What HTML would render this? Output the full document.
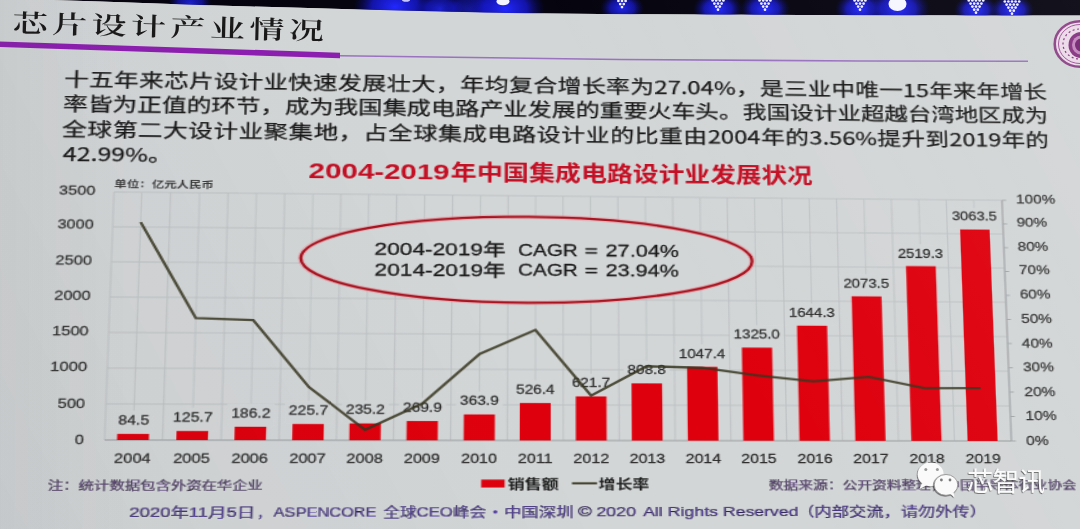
<!DOCTYPE html>
<html><head><meta charset="utf-8">
<style>
html,body{margin:0;padding:0;}
body{width:1080px;height:529px;overflow:hidden;position:relative;background:#d3d6d7;
font-family:"Liberation Sans","Noto Sans CJK SC",sans-serif;}
#bgv{position:absolute;left:0;top:0;width:1080px;height:529px;pointer-events:none;
background:linear-gradient(90deg, rgba(60,60,60,0.04) 0%, rgba(60,60,60,0) 12%),linear-gradient(62deg, rgba(40,40,50,0.045) 0%, rgba(40,40,50,0) 45%, rgba(255,255,255,0) 60%, rgba(255,255,255,0.06) 100%);}
#pg{position:absolute;left:0;top:0;width:1080px;height:529px;overflow:hidden;filter:blur(0.3px);}
#flat{position:absolute;left:0;top:0;width:860px;height:529px;transform-origin:0 0;transform:matrix3d(1.28775491,0.0201787391,0,4.26444297e-05,-0.0467399889,0.96182325,0,-8.47955464e-05,0,0,1,0,13.4662432,0.2624763,0,1);}
.pl{position:absolute;left:0;white-space:nowrap;width:786.5px;text-align:justify;text-align-last:justify;font-family:"Noto Sans CJK SC",sans-serif;font-size:19.2px;line-height:1;color:#1a1a1a;-webkit-text-stroke:0.25px #1a1a1a;}
svg text{font-family:"Liberation Sans", "Noto Sans CJK SC", sans-serif;}
.dl{font-size:12px;fill:#2e2e2e;text-anchor:middle;stroke:#2e2e2e;stroke-width:0.25px;}
.xl{font-size:12.5px;fill:#2e2e2e;text-anchor:middle;stroke:#2e2e2e;stroke-width:0.25px;}
.yl{font-size:12.5px;fill:#333;stroke:#333;stroke-width:0.25px;}
.rl{font-size:12.5px;fill:#333;text-anchor:start;stroke:#333;stroke-width:0.25px;}
.tk{stroke:#1c1c1c;stroke-width:0.3px;}
.tk2{stroke:currentColor;stroke-width:0.2px;}
.lt{letter-spacing:0px;}
.lt2{letter-spacing:0px;}
</style></head><body>
<div id="pg">
<svg width="1080" height="529" style="position:absolute;left:0;top:0" >
<defs><radialGradient id="gl"><stop offset="0" stop-color="#2228ff"/><stop offset="0.55" stop-color="#1618d0" stop-opacity="0.8"/><stop offset="1" stop-color="#0a0a70" stop-opacity="0"/></radialGradient>
<clipPath id="bc"><polygon points="0,0 0,-1 50,0 100,1.5 150,3.3 200,5 250,6.5 300,7.8 350,9.2 400,10.4 450,11.7 500,12.8 550,13.5 600,14 700,14.5 800,15 900,15.2 1000,15.5 1080,15.5 1080,0"/></clipPath></defs>
<g clip-path="url(#bc)"><polygon points="0,0 0,-1 50,0 100,1.5 150,3.3 200,5 250,6.5 300,7.8 350,9.2 400,10.4 450,11.7 500,12.8 550,13.5 600,14 700,14.5 800,15 900,15.2 1000,15.5 1080,15.5 1080,0" fill="#05040f"/>
<ellipse cx="190" cy="3" rx="22" ry="15.4" fill="url(#gl)" opacity="0.8"/><ellipse cx="395" cy="7" rx="42" ry="29.4" fill="url(#gl)" opacity="1"/><ellipse cx="440" cy="9" rx="25" ry="17.5" fill="url(#gl)" opacity="0.8"/><ellipse cx="470" cy="10" rx="30" ry="21.0" fill="url(#gl)" opacity="0.6"/><ellipse cx="505" cy="9" rx="40" ry="28.0" fill="url(#gl)" opacity="1"/><ellipse cx="622" cy="8" rx="22" ry="15.4" fill="url(#gl)" opacity="0.9"/><ellipse cx="718" cy="9" rx="25" ry="17.5" fill="url(#gl)" opacity="1"/><ellipse cx="765" cy="9" rx="25" ry="17.5" fill="url(#gl)" opacity="1"/><ellipse cx="860" cy="9" rx="25" ry="17.5" fill="url(#gl)" opacity="1"/><ellipse cx="898" cy="9" rx="32" ry="22.4" fill="url(#gl)" opacity="1"/><ellipse cx="976" cy="10" rx="22" ry="15.4" fill="url(#gl)" opacity="1"/><ellipse cx="1012" cy="10" rx="22" ry="15.4" fill="url(#gl)" opacity="1"/>
<ellipse cx="503" cy="1.5" rx="6.5" ry="3.8" fill="#f4f4ff"/><ellipse cx="406" cy="0" rx="4" ry="1.8" fill="#c8c8ff"/><ellipse cx="897.5" cy="4" rx="9" ry="7" fill="#f6f6ff"/><circle cx="618.4" cy="1.0" r="1.35" fill="#f0f0ff"/><circle cx="622.0" cy="1.0" r="1.35" fill="#f0f0ff"/><circle cx="625.6" cy="1.0" r="1.35" fill="#f0f0ff"/><circle cx="620.2" cy="4.1" r="1.35" fill="#f0f0ff"/><circle cx="623.8" cy="4.1" r="1.35" fill="#f0f0ff"/><circle cx="622.0" cy="7.1" r="1.35" fill="#f0f0ff"/><circle cx="712.6" cy="0.5" r="1.35" fill="#f0f0ff"/><circle cx="716.2" cy="0.5" r="1.35" fill="#f0f0ff"/><circle cx="719.8" cy="0.5" r="1.35" fill="#f0f0ff"/><circle cx="723.4" cy="0.5" r="1.35" fill="#f0f0ff"/><circle cx="714.4" cy="3.6" r="1.35" fill="#f0f0ff"/><circle cx="718.0" cy="3.6" r="1.35" fill="#f0f0ff"/><circle cx="721.6" cy="3.6" r="1.35" fill="#f0f0ff"/><circle cx="716.2" cy="6.6" r="1.35" fill="#f0f0ff"/><circle cx="719.8" cy="6.6" r="1.35" fill="#f0f0ff"/><circle cx="718.0" cy="9.7" r="1.35" fill="#f0f0ff"/><circle cx="759.6" cy="0.5" r="1.35" fill="#f0f0ff"/><circle cx="763.2" cy="0.5" r="1.35" fill="#f0f0ff"/><circle cx="766.8" cy="0.5" r="1.35" fill="#f0f0ff"/><circle cx="770.4" cy="0.5" r="1.35" fill="#f0f0ff"/><circle cx="761.4" cy="3.6" r="1.35" fill="#f0f0ff"/><circle cx="765.0" cy="3.6" r="1.35" fill="#f0f0ff"/><circle cx="768.6" cy="3.6" r="1.35" fill="#f0f0ff"/><circle cx="763.2" cy="6.6" r="1.35" fill="#f0f0ff"/><circle cx="766.8" cy="6.6" r="1.35" fill="#f0f0ff"/><circle cx="765.0" cy="9.7" r="1.35" fill="#f0f0ff"/><circle cx="854.6" cy="0.5" r="1.35" fill="#f0f0ff"/><circle cx="858.2" cy="0.5" r="1.35" fill="#f0f0ff"/><circle cx="861.8" cy="0.5" r="1.35" fill="#f0f0ff"/><circle cx="865.4" cy="0.5" r="1.35" fill="#f0f0ff"/><circle cx="856.4" cy="3.6" r="1.35" fill="#f0f0ff"/><circle cx="860.0" cy="3.6" r="1.35" fill="#f0f0ff"/><circle cx="863.6" cy="3.6" r="1.35" fill="#f0f0ff"/><circle cx="858.2" cy="6.6" r="1.35" fill="#f0f0ff"/><circle cx="861.8" cy="6.6" r="1.35" fill="#f0f0ff"/><circle cx="860.0" cy="9.7" r="1.35" fill="#f0f0ff"/><circle cx="968.8" cy="0.5" r="1.35" fill="#f0f0ff"/><circle cx="972.4" cy="0.5" r="1.35" fill="#f0f0ff"/><circle cx="976.0" cy="0.5" r="1.35" fill="#f0f0ff"/><circle cx="979.6" cy="0.5" r="1.35" fill="#f0f0ff"/><circle cx="983.2" cy="0.5" r="1.35" fill="#f0f0ff"/><circle cx="970.6" cy="3.6" r="1.35" fill="#f0f0ff"/><circle cx="974.2" cy="3.6" r="1.35" fill="#f0f0ff"/><circle cx="977.8" cy="3.6" r="1.35" fill="#f0f0ff"/><circle cx="981.4" cy="3.6" r="1.35" fill="#f0f0ff"/><circle cx="972.4" cy="6.6" r="1.35" fill="#f0f0ff"/><circle cx="976.0" cy="6.6" r="1.35" fill="#f0f0ff"/><circle cx="979.6" cy="6.6" r="1.35" fill="#f0f0ff"/><circle cx="974.2" cy="9.7" r="1.35" fill="#f0f0ff"/><circle cx="977.8" cy="9.7" r="1.35" fill="#f0f0ff"/><circle cx="976.0" cy="12.7" r="1.35" fill="#f0f0ff"/><circle cx="1004.8" cy="1.5" r="1.35" fill="#f0f0ff"/><circle cx="1008.4" cy="1.5" r="1.35" fill="#f0f0ff"/><circle cx="1012.0" cy="1.5" r="1.35" fill="#f0f0ff"/><circle cx="1015.6" cy="1.5" r="1.35" fill="#f0f0ff"/><circle cx="1019.2" cy="1.5" r="1.35" fill="#f0f0ff"/><circle cx="1006.6" cy="4.6" r="1.35" fill="#f0f0ff"/><circle cx="1010.2" cy="4.6" r="1.35" fill="#f0f0ff"/><circle cx="1013.8" cy="4.6" r="1.35" fill="#f0f0ff"/><circle cx="1017.4" cy="4.6" r="1.35" fill="#f0f0ff"/><circle cx="1008.4" cy="7.6" r="1.35" fill="#f0f0ff"/><circle cx="1012.0" cy="7.6" r="1.35" fill="#f0f0ff"/><circle cx="1015.6" cy="7.6" r="1.35" fill="#f0f0ff"/><circle cx="1010.2" cy="10.7" r="1.35" fill="#f0f0ff"/><circle cx="1013.8" cy="10.7" r="1.35" fill="#f0f0ff"/><circle cx="1012.0" cy="13.7" r="1.35" fill="#f0f0ff"/>
</g>
<polygon points="0,41.5 340,52.7 340,58.3 0,47" fill="#8d1fb0"/>
<path d="M340,55.7 C 420,57.2 520,58.3 620,59.5 S 900,61.2 1028,61.3" fill="none" stroke="#9a72c0" stroke-width="1.6"/>
</svg>
<div style="position:absolute;left:13px;top:9px;transform-origin:0 0;transform:rotate(1.45deg) scale(1.4,1);font-family:'Noto Serif CJK SC','Noto Sans CJK SC',serif;font-weight:600;font-size:25px;line-height:1;letter-spacing:3.2px;color:#1a1a1a;white-space:nowrap">芯片设计产业情况</div>
<div id="flat">
<div class="pl" id="l1" style="top:71px;left:42px">十五年来芯片设计业快速发展壮大，年均复合增长率为<span class="lt">27.04%</span>，是三业中唯一<span class="lt">15</span>年来年增长</div>
<div class="pl" id="l2" style="top:95.5px;left:42px">率皆为正值的环节，成为我国集成电路产业发展的重要火车头。我国设计业超越台湾地区成为</div>
<div class="pl" id="l3" style="top:122px;left:42px">全球第二大设计业聚集地，占全球集成电路设计业的比重由<span class="lt">2004</span>年的<span class="lt">3.56%</span>提升到<span class="lt">2019</span>年的</div>
<div class="pl" id="l4" style="top:147px;left:43.6px;text-align-last:left"><span class="lt2">42.99%</span>。</div>
<svg width="860" height="529" style="position:absolute;left:0;top:0;overflow:visible">
<line x1="84" y1="195" x2="788" y2="195" stroke="#bdc1c3" stroke-width="1"/>
<line x1="84" y1="230" x2="788" y2="230" stroke="#bdc1c3" stroke-width="1"/>
<line x1="84" y1="265" x2="788" y2="265" stroke="#bdc1c3" stroke-width="1"/>
<line x1="84" y1="300" x2="788" y2="300" stroke="#bdc1c3" stroke-width="1"/>
<line x1="84" y1="335" x2="788" y2="335" stroke="#bdc1c3" stroke-width="1"/>
<line x1="84" y1="370" x2="788" y2="370" stroke="#bdc1c3" stroke-width="1"/>
<line x1="84" y1="405" x2="788" y2="405" stroke="#bdc1c3" stroke-width="1"/>
<line x1="84" y1="440" x2="788" y2="440" stroke="#bdc1c3" stroke-width="1"/>
<line x1="84.00" y1="195" x2="84.00" y2="440" stroke="#bdc1c3" stroke-width="0.9"/>
<line x1="127.74" y1="195" x2="127.74" y2="440" stroke="#bdc1c3" stroke-width="0.9"/>
<line x1="172.11" y1="195" x2="172.11" y2="440" stroke="#bdc1c3" stroke-width="0.9"/>
<line x1="216.12" y1="195" x2="216.12" y2="440" stroke="#bdc1c3" stroke-width="0.9"/>
<line x1="259.92" y1="195" x2="259.92" y2="440" stroke="#bdc1c3" stroke-width="0.9"/>
<line x1="303.66" y1="195" x2="303.66" y2="440" stroke="#bdc1c3" stroke-width="0.9"/>
<line x1="347.59" y1="195" x2="347.59" y2="440" stroke="#bdc1c3" stroke-width="0.9"/>
<line x1="391.30" y1="195" x2="391.30" y2="440" stroke="#bdc1c3" stroke-width="0.9"/>
<line x1="434.73" y1="195" x2="434.73" y2="440" stroke="#bdc1c3" stroke-width="0.9"/>
<line x1="478.29" y1="195" x2="478.29" y2="440" stroke="#bdc1c3" stroke-width="0.9"/>
<line x1="521.99" y1="195" x2="521.99" y2="440" stroke="#bdc1c3" stroke-width="0.9"/>
<line x1="565.65" y1="195" x2="565.65" y2="440" stroke="#bdc1c3" stroke-width="0.9"/>
<line x1="609.51" y1="195" x2="609.51" y2="440" stroke="#bdc1c3" stroke-width="0.9"/>
<line x1="653.67" y1="195" x2="653.67" y2="440" stroke="#bdc1c3" stroke-width="0.9"/>
<line x1="697.99" y1="195" x2="697.99" y2="440" stroke="#bdc1c3" stroke-width="0.9"/>
<line x1="742.59" y1="195" x2="742.59" y2="440" stroke="#bdc1c3" stroke-width="0.9"/>
<line x1="788.00" y1="195" x2="788.00" y2="440" stroke="#bdc1c3" stroke-width="0.9"/>
<line x1="105.40" y1="195" x2="105.40" y2="440" stroke="#bdc1c3" stroke-width="0.8"/>
<line x1="150.08" y1="195" x2="150.08" y2="440" stroke="#bdc1c3" stroke-width="0.8"/>
<line x1="194.14" y1="195" x2="194.14" y2="440" stroke="#bdc1c3" stroke-width="0.8"/>
<line x1="238.11" y1="195" x2="238.11" y2="440" stroke="#bdc1c3" stroke-width="0.8"/>
<line x1="281.74" y1="195" x2="281.74" y2="440" stroke="#bdc1c3" stroke-width="0.8"/>
<line x1="325.59" y1="195" x2="325.59" y2="440" stroke="#bdc1c3" stroke-width="0.8"/>
<line x1="369.60" y1="195" x2="369.60" y2="440" stroke="#bdc1c3" stroke-width="0.8"/>
<line x1="413.01" y1="195" x2="413.01" y2="440" stroke="#bdc1c3" stroke-width="0.8"/>
<line x1="456.46" y1="195" x2="456.46" y2="440" stroke="#bdc1c3" stroke-width="0.8"/>
<line x1="500.12" y1="195" x2="500.12" y2="440" stroke="#bdc1c3" stroke-width="0.8"/>
<line x1="543.87" y1="195" x2="543.87" y2="440" stroke="#bdc1c3" stroke-width="0.8"/>
<line x1="587.43" y1="195" x2="587.43" y2="440" stroke="#bdc1c3" stroke-width="0.8"/>
<line x1="631.59" y1="195" x2="631.59" y2="440" stroke="#bdc1c3" stroke-width="0.8"/>
<line x1="675.76" y1="195" x2="675.76" y2="440" stroke="#bdc1c3" stroke-width="0.8"/>
<line x1="720.22" y1="195" x2="720.22" y2="440" stroke="#bdc1c3" stroke-width="0.8"/>
<line x1="764.97" y1="195" x2="764.97" y2="440" stroke="#bdc1c3" stroke-width="0.8"/>
<line x1="84" y1="440" x2="788" y2="440" stroke="#a3a6a8" stroke-width="1.1"/>
<line x1="788" y1="195" x2="788" y2="440" stroke="#a3a6a8" stroke-width="1.1"/>
<line x1="788" y1="440.0" x2="791.5" y2="440.0" stroke="#a3a6a8" stroke-width="1"/>
<line x1="788" y1="415.5" x2="791.5" y2="415.5" stroke="#a3a6a8" stroke-width="1"/>
<line x1="788" y1="391.0" x2="791.5" y2="391.0" stroke="#a3a6a8" stroke-width="1"/>
<line x1="788" y1="366.5" x2="791.5" y2="366.5" stroke="#a3a6a8" stroke-width="1"/>
<line x1="788" y1="342.0" x2="791.5" y2="342.0" stroke="#a3a6a8" stroke-width="1"/>
<line x1="788" y1="317.5" x2="791.5" y2="317.5" stroke="#a3a6a8" stroke-width="1"/>
<line x1="788" y1="293.0" x2="791.5" y2="293.0" stroke="#a3a6a8" stroke-width="1"/>
<line x1="788" y1="268.5" x2="791.5" y2="268.5" stroke="#a3a6a8" stroke-width="1"/>
<line x1="788" y1="244.0" x2="791.5" y2="244.0" stroke="#a3a6a8" stroke-width="1"/>
<line x1="788" y1="219.5" x2="791.5" y2="219.5" stroke="#a3a6a8" stroke-width="1"/>
<line x1="788" y1="195.0" x2="791.5" y2="195.0" stroke="#a3a6a8" stroke-width="1"/>
<rect x="90.70" y="411.58" width="29.40" height="22.50" fill="#d3d6d7"/>
<rect x="132.08" y="408.70" width="36.00" height="22.50" fill="#d3d6d7"/>
<rect x="176.14" y="404.47" width="36.00" height="22.50" fill="#d3d6d7"/>
<rect x="220.11" y="401.70" width="36.00" height="22.50" fill="#d3d6d7"/>
<rect x="263.74" y="401.04" width="36.00" height="22.50" fill="#d3d6d7"/>
<rect x="307.59" y="398.61" width="36.00" height="22.50" fill="#d3d6d7"/>
<rect x="351.60" y="392.03" width="36.00" height="22.50" fill="#d3d6d7"/>
<rect x="395.01" y="380.65" width="36.00" height="22.50" fill="#d3d6d7"/>
<rect x="438.46" y="373.98" width="36.00" height="22.50" fill="#d3d6d7"/>
<rect x="482.12" y="360.88" width="36.00" height="22.50" fill="#d3d6d7"/>
<rect x="522.57" y="344.18" width="42.60" height="22.50" fill="#d3d6d7"/>
<rect x="566.13" y="324.75" width="42.60" height="22.50" fill="#d3d6d7"/>
<rect x="610.29" y="302.40" width="42.60" height="22.50" fill="#d3d6d7"/>
<rect x="654.46" y="272.36" width="42.60" height="22.50" fill="#d3d6d7"/>
<rect x="698.92" y="241.15" width="42.60" height="22.50" fill="#d3d6d7"/>
<rect x="743.67" y="203.06" width="42.60" height="22.50" fill="#d3d6d7"/>
<ellipse cx="407.2" cy="259.9" rx="177.5" ry="43.5" fill="#d3d6d7" stroke="rgba(235,140,150,0.45)" stroke-width="4.6"/>
<ellipse cx="407.2" cy="259.9" rx="177.5" ry="43.5" fill="none" stroke="#a9131f" stroke-width="2.3"/>
<rect x="93.40" y="434.08" width="24" height="5.92" fill="#df000e"/>
<rect x="138.08" y="431.20" width="24" height="8.80" fill="#df000e"/>
<rect x="182.14" y="426.97" width="24" height="13.03" fill="#df000e"/>
<rect x="226.11" y="424.20" width="24" height="15.80" fill="#df000e"/>
<rect x="269.74" y="423.54" width="24" height="16.46" fill="#df000e"/>
<rect x="313.59" y="421.11" width="24" height="18.89" fill="#df000e"/>
<rect x="357.60" y="414.53" width="24" height="25.47" fill="#df000e"/>
<rect x="401.01" y="403.15" width="24" height="36.85" fill="#df000e"/>
<rect x="444.46" y="396.48" width="24" height="43.52" fill="#df000e"/>
<rect x="488.12" y="383.38" width="24" height="56.62" fill="#df000e"/>
<rect x="531.87" y="366.68" width="24" height="73.32" fill="#df000e"/>
<rect x="575.43" y="347.25" width="24" height="92.75" fill="#df000e"/>
<rect x="619.59" y="324.90" width="24" height="115.10" fill="#df000e"/>
<rect x="663.76" y="294.86" width="24" height="145.14" fill="#df000e"/>
<rect x="708.22" y="263.65" width="24" height="176.35" fill="#df000e"/>
<rect x="752.97" y="225.56" width="24" height="214.44" fill="#df000e"/>
<text x="105.40" y="424.98" class="dl">84.5</text>
<text x="150.08" y="422.10" class="dl">125.7</text>
<text x="194.14" y="417.87" class="dl">186.2</text>
<text x="238.11" y="415.10" class="dl">225.7</text>
<text x="281.74" y="414.44" class="dl">235.2</text>
<text x="325.59" y="412.01" class="dl">269.9</text>
<text x="369.60" y="405.43" class="dl">363.9</text>
<text x="413.01" y="394.05" class="dl">526.4</text>
<text x="456.46" y="387.38" class="dl">621.7</text>
<text x="500.12" y="374.28" class="dl">808.8</text>
<text x="543.87" y="357.58" class="dl">1047.4</text>
<text x="587.43" y="338.15" class="dl">1325.0</text>
<text x="631.59" y="315.80" class="dl">1644.3</text>
<text x="675.76" y="285.75" class="dl">2073.5</text>
<text x="720.22" y="254.55" class="dl">2519.3</text>
<text x="764.97" y="216.46" class="dl">3063.5</text>
<polyline points="105.40,225.13 150.08,320.44 194.14,322.15 238.11,388.06 281.74,429.71 325.59,403.74 369.60,354.74 413.01,330.49 456.46,395.65 500.12,366.25 543.87,367.73 587.43,375.07 631.59,380.95 675.76,376.06 720.22,387.32 764.97,387.08" fill="none" stroke="#37361f" stroke-opacity="0.86" stroke-width="2.3" stroke-linejoin="miter"/>
<text x="105.40" y="461.90" class="xl">2004</text>
<text x="150.08" y="461.90" class="xl">2005</text>
<text x="194.14" y="461.90" class="xl">2006</text>
<text x="238.11" y="461.90" class="xl">2007</text>
<text x="281.74" y="461.90" class="xl">2008</text>
<text x="325.59" y="461.90" class="xl">2009</text>
<text x="369.60" y="461.90" class="xl">2010</text>
<text x="413.01" y="461.90" class="xl">2011</text>
<text x="456.46" y="461.90" class="xl">2012</text>
<text x="500.12" y="461.90" class="xl">2013</text>
<text x="543.87" y="461.90" class="xl">2014</text>
<text x="587.43" y="461.90" class="xl">2015</text>
<text x="631.59" y="461.90" class="xl">2016</text>
<text x="675.76" y="461.90" class="xl">2017</text>
<text x="720.22" y="461.90" class="xl">2018</text>
<text x="764.97" y="461.90" class="xl">2019</text>
<text x="61.53" y="443.76" class="yl">0</text>
<text x="47.48" y="408.76" class="yl">500</text>
<text x="40.80" y="373.35" class="yl">1000</text>
<text x="41.01" y="338.01" class="yl">1500</text>
<text x="41.46" y="303.15" class="yl">2000</text>
<text x="41.30" y="267.77" class="yl">2500</text>
<text x="41.68" y="232.18" class="yl">3000</text>
<text x="41.86" y="197.68" class="yl">3500</text>
<text x="799.77" y="443.70" class="rl">0%</text>
<text x="800.06" y="419.50" class="rl">10%</text>
<text x="799.95" y="394.81" class="rl">20%</text>
<text x="799.65" y="370.31" class="rl">30%</text>
<text x="799.47" y="346.12" class="rl">40%</text>
<text x="799.71" y="320.81" class="rl">50%</text>
<text x="799.40" y="296.21" class="rl">60%</text>
<text x="799.63" y="271.30" class="rl">70%</text>
<text x="799.22" y="247.01" class="rl">80%</text>
<text x="799.15" y="222.41" class="rl">90%</text>
<text x="799.56" y="197.71" class="rl">100%</text>
<rect x="371.38" y="478.25" width="18.01" height="7.69" fill="#df000e"/>
<line x1="441.43" y1="481.88" x2="460.80" y2="481.88" stroke="#3d3c27" stroke-width="2"/>
<text x="391.67" y="486.82" textLength="39.42" lengthAdjust="spacingAndGlyphs" font-size="13" fill="#1e1e1e" font-weight="bold" >销售额</text>
<text x="462.09" y="487.25" textLength="39.39" lengthAdjust="spacingAndGlyphs" font-size="13" fill="#1e1e1e" font-weight="bold" >增长率</text>
<text x="234.37" y="178.91" textLength="110.59" lengthAdjust="spacingAndGlyphs" font-size="21.4" fill="#c40f24" font-weight="bold" >2004-2019</text>
<text x="345.84" y="179.41" textLength="288.86" lengthAdjust="spacingAndGlyphs" font-size="21.4" fill="#c40f24" font-weight="bold" >年中国集成电路设计业发展状况</text>
<text x="84.13" y="189.54" textLength="76.76" lengthAdjust="spacingAndGlyphs" font-size="9.6" fill="#3c3c3c" font-weight="bold" >单位：亿元人民币</text>
<text x="286.87" y="256.00" textLength="102.63" lengthAdjust="spacingAndGlyphs" font-size="17.4" fill="#1c1c1c" font-weight="normal" class="tk">2004-2019年</text>
<text x="399.33" y="255.75" textLength="46.92" lengthAdjust="spacingAndGlyphs" font-size="17.4" fill="#1c1c1c" font-weight="normal" class="tk">CAGR</text>
<text x="451.74" y="255.96" textLength="10.48" lengthAdjust="spacingAndGlyphs" font-size="17.4" fill="#1c1c1c" font-weight="normal" class="tk">=</text>
<text x="468.31" y="255.91" textLength="58.19" lengthAdjust="spacingAndGlyphs" font-size="17.4" fill="#1c1c1c" font-weight="normal" class="tk">27.04%</text>
<text x="287.11" y="276.91" textLength="102.45" lengthAdjust="spacingAndGlyphs" font-size="17.4" fill="#1c1c1c" font-weight="normal" class="tk">2014-2019年</text>
<text x="399.38" y="276.36" textLength="46.84" lengthAdjust="spacingAndGlyphs" font-size="17.4" fill="#1c1c1c" font-weight="normal" class="tk">CAGR</text>
<text x="451.70" y="276.21" textLength="10.46" lengthAdjust="spacingAndGlyphs" font-size="17.4" fill="#1c1c1c" font-weight="normal" class="tk">=</text>
<text x="468.23" y="276.17" textLength="58.09" lengthAdjust="spacingAndGlyphs" font-size="17.4" fill="#1c1c1c" font-weight="normal" class="tk">23.94%</text>
<text x="42.69" y="487.64" textLength="161.83" lengthAdjust="spacingAndGlyphs" font-size="11.5" fill="#6a4f8c" font-weight="normal" class="tk2">注：统计数据包含外资在华企业</text>
<text x="594.70" y="488.03" textLength="243.94" lengthAdjust="spacingAndGlyphs" font-size="11.5" fill="#6a4f8c" font-weight="normal" class="tk2">数据来源：公开资料整理，中国半导体行业协会</text>
<text x="104.49" y="513.55" textLength="94.85" lengthAdjust="spacingAndGlyphs" font-size="13" fill="#5a45a6" font-weight="normal" class="tk2">2020年11月5日</text>
<text x="200.90" y="513.72" textLength="9.95" lengthAdjust="spacingAndGlyphs" font-size="13" fill="#5a45a6" font-weight="normal" class="tk2">，</text>
<text x="213.33" y="513.74" textLength="78.01" lengthAdjust="spacingAndGlyphs" font-size="13" fill="#5a45a6" font-weight="normal" class="tk2">ASPENCORE</text>
<text x="296.41" y="513.90" textLength="78.95" lengthAdjust="spacingAndGlyphs" font-size="13" fill="#5a45a6" font-weight="normal" class="tk2">全球CEO峰会</text>
<text x="388.90" y="514.07" textLength="53.71" lengthAdjust="spacingAndGlyphs" font-size="13" fill="#5a45a6" font-weight="normal" class="tk2">中国深圳</text>
<text x="446.11" y="514.17" textLength="10.74" lengthAdjust="spacingAndGlyphs" font-size="13" fill="#5a45a6" font-weight="normal" class="tk2">©</text>
<text x="460.16" y="514.20" textLength="30.89" lengthAdjust="spacingAndGlyphs" font-size="13" fill="#5a45a6" font-weight="normal" class="tk2">2020</text>
<text x="496.40" y="514.26" textLength="121.23" lengthAdjust="spacingAndGlyphs" font-size="13" fill="#5a45a6" font-weight="normal" class="tk2">All Rights Reserved</text>
<text x="616.42" y="514.50" textLength="149.86" lengthAdjust="spacingAndGlyphs" font-size="13" fill="#5a45a6" font-weight="normal" class="tk2">（内部交流，请勿外传）</text>
<circle cx="382.31" cy="509.70" r="1.6" fill="#5a45a6"/>
</svg>
</div>
<div id="bgv"></div>
<svg width="40" height="70" style="position:absolute;left:1045px;top:10px" viewBox="1045 10 40 70">
<ellipse cx="1080" cy="44" rx="26.5" ry="24" fill="#ecdcea"/>
<ellipse cx="1080" cy="44" rx="25.3" ry="22.8" fill="none" stroke="#914c8c" stroke-width="2.6"/>
<ellipse cx="1080" cy="44" rx="21.5" ry="19.5" fill="none" stroke="#a45c9e" stroke-width="1"/>
<ellipse cx="1080" cy="44" rx="17" ry="15" fill="none" stroke="#8c3f86" stroke-width="1.2" stroke-dasharray="2 2.5"/>
<ellipse cx="1081" cy="45" rx="12.5" ry="13" fill="#8a3d86"/>
<ellipse cx="1081" cy="45" rx="9" ry="9.5" fill="#c58abf"/>
<ellipse cx="1081" cy="45" rx="6" ry="6.5" fill="#7b2f78"/>
</svg>
<svg width="160" height="50" style="position:absolute;left:905px;top:455px" viewBox="905 455 160 50">
<defs><filter id="ds" x="-20%" y="-20%" width="140%" height="140%"><feDropShadow dx="-0.7" dy="0.7" stdDeviation="0.6" flood-color="#3a3a3a" flood-opacity="0.85"/></filter></defs>
<g filter="url(#ds)">
<ellipse cx="930.7" cy="474.4" rx="13" ry="11.8" fill="#fafafa"/>
<path d="M922,483 L919.5,489 L927,485 Z" fill="#fafafa"/>
</g>
<circle cx="925.8" cy="469.6" r="1.5" fill="#9a9a9a"/><circle cx="937.4" cy="469.6" r="1.5" fill="#9a9a9a"/>
<g filter="url(#ds)">
<ellipse cx="946" cy="484.9" rx="11.8" ry="10.4" fill="#fafafa" stroke="#8a8a8a" stroke-width="0.8"/>
<path d="M950,493.5 L954.5,497.5 L953.5,492 Z" fill="#fafafa"/>
</g>
<circle cx="941.4" cy="480" r="1.4" fill="#7a7a7a"/><circle cx="950" cy="480" r="1.4" fill="#7a7a7a"/>
<text x="967" y="491" font-family="Liberation Sans,Noto Sans CJK SC,sans-serif" font-size="26.5" fill="#fbfbfb" filter="url(#ds)" letter-spacing="-0.8">芯智讯</text>
</svg>
</div>
</body></html>
